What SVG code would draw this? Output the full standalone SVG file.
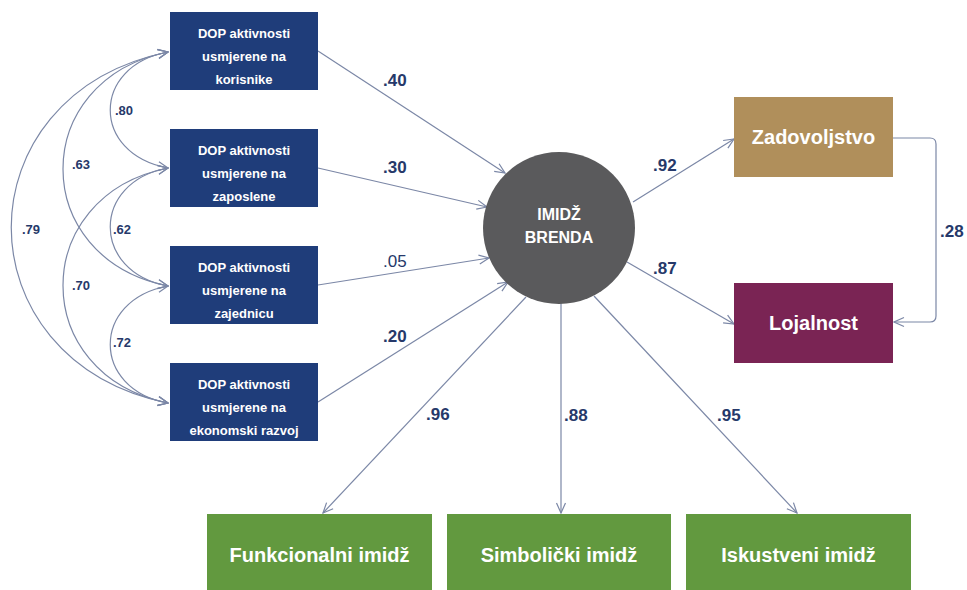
<svg xmlns="http://www.w3.org/2000/svg" width="967" height="590" viewBox="0 0 967 590">
  <defs>
    <marker id="arr" viewBox="0 0 12 12" refX="11" refY="6" markerWidth="12" markerHeight="12" markerUnits="userSpaceOnUse" orient="auto-start-reverse">
      <path d="M1,1.5 L11,6 L1,10.5" fill="none" stroke="#7B87A6" stroke-width="1.2"/>
    </marker>
    <style>
      .dop rect { fill: #1F3D7A; }
      .dop text { font-family: "Liberation Sans", Arial, sans-serif; font-size: 13px; font-weight: bold; fill: #FFFFFF; text-anchor: middle; }
      .big { font-family: "Liberation Sans", Arial, sans-serif; font-size: 20px; font-weight: bold; fill: #FFFFFF; text-anchor: middle; }
      .green { fill: #62993F; }
      .conn path, .conn line { fill: none; stroke: #7B87A6; stroke-width: 1.2; }
      .lbl { font-family: "Liberation Sans", Arial, sans-serif; font-size: 17px; font-weight: bold; fill: #26396A; }
      .lbl.thin { font-weight: normal; }
      .sm { font-family: "Liberation Sans", Arial, sans-serif; font-size: 13px; font-weight: bold; fill: #26396A; }
    </style>
  </defs>
  <rect width="967" height="590" fill="#FFFFFF"/>

  <!-- connectors -->
  <g id="connectors" class="conn">
    <!-- correlations between DOP activities -->
    <path d="M168,52 C91,66 91,154 168,168" marker-start="url(#arr)" marker-end="url(#arr)"/>
    <path d="M168,168 C91,182 91,272 168,286" marker-start="url(#arr)" marker-end="url(#arr)"/>
    <path d="M168,286 C91,300 91,389 168,403" marker-start="url(#arr)" marker-end="url(#arr)"/>
    <path d="M168,52 C28,80 28,258 168,286" marker-start="url(#arr)" marker-end="url(#arr)"/>
    <path d="M168,168 C28,196 28,375 168,403" marker-start="url(#arr)" marker-end="url(#arr)"/>
    <path d="M168,52 C-41,95 -41,360 168,403" marker-start="url(#arr)" marker-end="url(#arr)"/>
    <!-- paths into brand image -->
    <line x1="318" y1="51" x2="505" y2="173" marker-end="url(#arr)"/>
    <line x1="318" y1="168" x2="487" y2="207" marker-end="url(#arr)"/>
    <line x1="318" y1="285" x2="489" y2="258" marker-end="url(#arr)"/>
    <line x1="318" y1="402" x2="508" y2="282" marker-end="url(#arr)"/>
    <!-- paths out of brand image -->
    <line x1="633" y1="202" x2="734" y2="139" marker-end="url(#arr)"/>
    <line x1="627" y1="262" x2="734" y2="324" marker-end="url(#arr)"/>
    <path d="M893,138 L930,138 Q936,138 936,144 L936,316 Q936,322 930,322 L894,322" marker-end="url(#arr)"/>
    <line x1="526" y1="297" x2="323" y2="513" marker-end="url(#arr)"/>
    <line x1="561" y1="303" x2="561" y2="513" marker-end="url(#arr)"/>
    <line x1="594" y1="296" x2="797" y2="513" marker-end="url(#arr)"/>
  </g>

  <!-- coefficient labels -->
  <g id="labels">
    <text class="sm" x="115" y="115">.80</text>
    <text class="sm" x="72" y="169">.63</text>
    <text class="sm" x="22" y="234">.79</text>
    <text class="sm" x="113" y="234">.62</text>
    <text class="sm" x="72" y="290">.70</text>
    <text class="sm" x="113" y="347">.72</text>
    <text class="lbl" x="383" y="86">.40</text>
    <text class="lbl" x="383" y="173">.30</text>
    <text class="lbl thin" x="383" y="267">.05</text>
    <text class="lbl" x="383" y="342">.20</text>
    <text class="lbl" x="426" y="420">.96</text>
    <text class="lbl" x="564" y="421">.88</text>
    <text class="lbl" x="717" y="421">.95</text>
    <text class="lbl" x="653" y="171">.92</text>
    <text class="lbl" x="653" y="274">.87</text>
    <text class="lbl" x="940" y="237">.28</text>
  </g>

  <!-- DOP activity nodes -->
  <g id="dop-korisnici" class="dop">
    <rect x="170" y="12" width="148" height="78"/>
    <text x="244" y="37.5">DOP aktivnosti</text>
    <text x="244" y="60.5">usmjerene na</text>
    <text x="244" y="83.5">korisnike</text>
  </g>
  <g id="dop-zaposleni" class="dop">
    <rect x="170" y="129" width="148" height="78"/>
    <text x="244" y="154.5">DOP aktivnosti</text>
    <text x="244" y="177.5">usmjerene na</text>
    <text x="244" y="200.5">zaposlene</text>
  </g>
  <g id="dop-zajednica" class="dop">
    <rect x="170" y="246" width="148" height="78"/>
    <text x="244" y="271.5">DOP aktivnosti</text>
    <text x="244" y="294.5">usmjerene na</text>
    <text x="244" y="317.5">zajednicu</text>
  </g>
  <g id="dop-ekonomija" class="dop">
    <rect x="170" y="363" width="148" height="78"/>
    <text x="244" y="388.5">DOP aktivnosti</text>
    <text x="244" y="411.5">usmjerene na</text>
    <text x="244" y="434.5">ekonomski razvoj</text>
  </g>

  <!-- central construct -->
  <g id="imidz-brenda">
    <circle cx="559" cy="228" r="76" fill="#5A5A5C"/>
    <text x="559" y="220" font-family="Liberation Sans, Arial, sans-serif" font-size="16" font-weight="bold" fill="#FFFFFF" text-anchor="middle">IMIDŽ</text>
    <text x="559" y="243" font-family="Liberation Sans, Arial, sans-serif" font-size="16" font-weight="bold" fill="#FFFFFF" text-anchor="middle">BRENDA</text>
  </g>

  <!-- outcomes -->
  <g id="zadovoljstvo">
    <rect x="734" y="97" width="159" height="80" fill="#B08F5B"/>
    <text class="big" x="813.5" y="144">Zadovoljstvo</text>
  </g>
  <g id="lojalnost">
    <rect x="734" y="283" width="159" height="80" fill="#7A2454"/>
    <text class="big" x="813.5" y="330">Lojalnost</text>
  </g>

  <!-- brand image dimensions -->
  <g id="funkcionalni">
    <rect class="green" x="207" y="514" width="225" height="80"/>
    <text class="big" x="319.5" y="562">Funkcionalni imidž</text>
  </g>
  <g id="simbolicki">
    <rect class="green" x="447" y="514" width="224" height="80"/>
    <text class="big" x="559" y="562">Simbolički imidž</text>
  </g>
  <g id="iskustveni">
    <rect class="green" x="686" y="514" width="225" height="80"/>
    <text class="big" x="798.5" y="562">Iskustveni imidž</text>
  </g>
</svg>
